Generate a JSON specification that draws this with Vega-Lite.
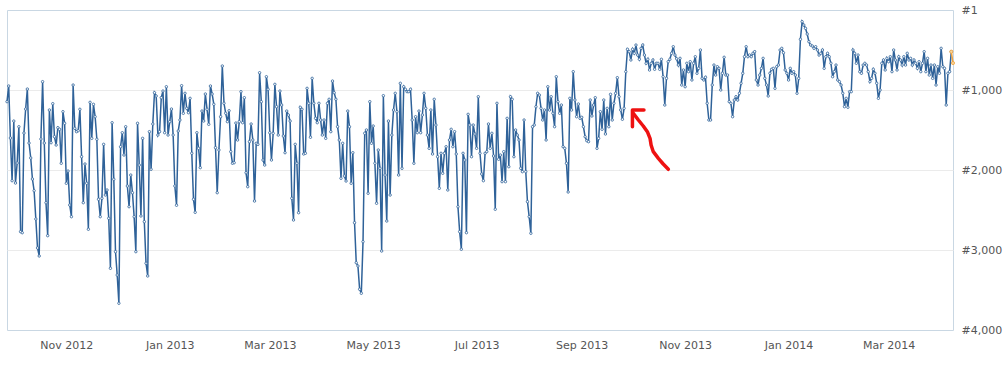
{
"$schema": "https://vega.github.io/schema/vega-lite/v6.json",
"width": 946, "height": 320,
"autosize": {"type": "none"},
"padding": {"left": 7, "top": 10, "right": 53, "bottom": 37},
"background": "white",
"config": {"view": {"stroke": "#c9d7e3", "strokeWidth": 1}, "font": "DejaVu Sans"},
"datasets": {
"rank": [
{"d":"2012-09-27","r":1146},{"d":"2012-09-28","r":950},{"d":"2012-09-29","r":1600},{"d":"2012-09-30","r":2134},
{"d":"2012-10-01","r":1388},{"d":"2012-10-02","r":2163},{"d":"2012-10-03","r":1913},{"d":"2012-10-04","r":1459},{"d":"2012-10-05","r":2771},{"d":"2012-10-06","r":2784},{"d":"2012-10-07","r":1538},{"d":"2012-10-08","r":1238},{"d":"2012-10-09","r":988},{"d":"2012-10-10","r":1663},{"d":"2012-10-11","r":1850},{"d":"2012-10-12","r":2113},{"d":"2012-10-13","r":2259},{"d":"2012-10-14","r":2613},{"d":"2012-10-15","r":2975},{"d":"2012-10-16","r":3075},{"d":"2012-10-17","r":1613},{"d":"2012-10-18","r":896},{"d":"2012-10-19","r":1663},{"d":"2012-10-20","r":2409},{"d":"2012-10-21","r":2821},{"d":"2012-10-22","r":1250},{"d":"2012-10-23","r":1659},{"d":"2012-10-24","r":1171},{"d":"2012-10-25","r":1584},{"d":"2012-10-26","r":1688},{"d":"2012-10-27","r":1471},{"d":"2012-10-28","r":1491},{"d":"2012-10-29","r":1916},{"d":"2012-10-30","r":1271},{"d":"2012-10-31","r":1416},
{"d":"2012-11-01","r":2166},{"d":"2012-11-02","r":2013},{"d":"2012-11-03","r":2438},{"d":"2012-11-04","r":2584},{"d":"2012-11-05","r":938},{"d":"2012-11-06","r":1479},{"d":"2012-11-07","r":1521},{"d":"2012-11-08","r":1509},{"d":"2012-11-09","r":1241},{"d":"2012-11-10","r":1834},{"d":"2012-11-11","r":2409},{"d":"2012-11-12","r":1925},{"d":"2012-11-13","r":2166},{"d":"2012-11-14","r":2741},{"d":"2012-11-15","r":1154},{"d":"2012-11-16","r":1604},{"d":"2012-11-17","r":1179},{"d":"2012-11-18","r":1334},{"d":"2012-11-19","r":1616},{"d":"2012-11-20","r":2366},{"d":"2012-11-21","r":2584},{"d":"2012-11-22","r":2354},{"d":"2012-11-23","r":1679},{"d":"2012-11-24","r":2313},{"d":"2012-11-25","r":2250},{"d":"2012-11-26","r":2604},{"d":"2012-11-27","r":3229},{"d":"2012-11-28","r":1409},{"d":"2012-11-29","r":2116},{"d":"2012-11-30","r":3021},
{"d":"2012-12-01","r":3313},{"d":"2012-12-02","r":3666},{"d":"2012-12-03","r":1709},{"d":"2012-12-04","r":1534},{"d":"2012-12-05","r":1813},{"d":"2012-12-06","r":1459},{"d":"2012-12-07","r":2200},{"d":"2012-12-08","r":2459},{"d":"2012-12-09","r":2063},{"d":"2012-12-10","r":2284},{"d":"2012-12-11","r":2584},{"d":"2012-12-12","r":3021},{"d":"2012-12-13","r":1416},{"d":"2012-12-14","r":1938},{"d":"2012-12-15","r":2575},{"d":"2012-12-16","r":1604},{"d":"2012-12-17","r":2646},{"d":"2012-12-18","r":3166},{"d":"2012-12-19","r":3325},{"d":"2012-12-20","r":1521},{"d":"2012-12-21","r":1991},{"d":"2012-12-22","r":1425},{"d":"2012-12-23","r":1034},{"d":"2012-12-24","r":1075},{"d":"2012-12-25","r":1563},{"d":"2012-12-26","r":1521},{"d":"2012-12-27","r":1096},{"d":"2012-12-28","r":1013},{"d":"2012-12-29","r":1534},{"d":"2012-12-30","r":959},{"d":"2012-12-31","r":1563},
{"d":"2013-01-01","r":1396},{"d":"2013-01-02","r":1238},{"d":"2013-01-03","r":1563},{"d":"2013-01-04","r":2200},{"d":"2013-01-05","r":2441},{"d":"2013-01-06","r":1513},{"d":"2013-01-07","r":1375},{"d":"2013-01-08","r":946},{"d":"2013-01-09","r":1291},{"d":"2013-01-10","r":1041},{"d":"2013-01-11","r":1229},{"d":"2013-01-12","r":1284},{"d":"2013-01-13","r":1104},{"d":"2013-01-14","r":1791},{"d":"2013-01-15","r":2366},{"d":"2013-01-16","r":2529},{"d":"2013-01-17","r":1534},{"d":"2013-01-18","r":1729},{"d":"2013-01-19","r":1971},{"d":"2013-01-20","r":1263},{"d":"2013-01-21","r":1388},{"d":"2013-01-22","r":1050},{"d":"2013-01-23","r":1241},{"d":"2013-01-24","r":1429},{"d":"2013-01-25","r":950},{"d":"2013-01-26","r":1050},{"d":"2013-01-27","r":1179},{"d":"2013-01-28","r":1721},{"d":"2013-01-29","r":2284},{"d":"2013-01-30","r":1750},{"d":"2013-01-31","r":1334},
{"d":"2013-02-01","r":700},{"d":"2013-02-02","r":1166},{"d":"2013-02-03","r":1291},{"d":"2013-02-04","r":1396},{"d":"2013-02-05","r":1259},{"d":"2013-02-06","r":1771},{"d":"2013-02-07","r":1916},{"d":"2013-02-08","r":1909},{"d":"2013-02-09","r":1413},{"d":"2013-02-10","r":1625},{"d":"2013-02-11","r":1396},{"d":"2013-02-12","r":1021},{"d":"2013-02-13","r":1409},{"d":"2013-02-14","r":1096},{"d":"2013-02-15","r":2034},{"d":"2013-02-16","r":2209},{"d":"2013-02-17","r":1646},{"d":"2013-02-18","r":1425},{"d":"2013-02-19","r":1625},{"d":"2013-02-20","r":2388},{"d":"2013-02-21","r":1666},{"d":"2013-02-22","r":1679},{"d":"2013-02-23","r":784},{"d":"2013-02-24","r":1146},{"d":"2013-02-25","r":1875},{"d":"2013-02-26","r":1938},{"d":"2013-02-27","r":834},{"d":"2013-02-28","r":991},
{"d":"2013-03-01","r":1534},{"d":"2013-03-02","r":1875},{"d":"2013-03-03","r":1541},{"d":"2013-03-04","r":929},{"d":"2013-03-05","r":1209},{"d":"2013-03-06","r":1563},{"d":"2013-03-07","r":1013},{"d":"2013-03-08","r":1188},{"d":"2013-03-09","r":1575},{"d":"2013-03-10","r":1784},{"d":"2013-03-11","r":1263},{"d":"2013-03-12","r":1313},{"d":"2013-03-13","r":1388},{"d":"2013-03-14","r":2354},{"d":"2013-03-15","r":2625},{"d":"2013-03-16","r":1679},{"d":"2013-03-17","r":1916},{"d":"2013-03-18","r":2534},{"d":"2013-03-19","r":1216},{"d":"2013-03-20","r":1241},{"d":"2013-03-21","r":1800},{"d":"2013-03-22","r":1791},{"d":"2013-03-23","r":979},{"d":"2013-03-24","r":1166},{"d":"2013-03-25","r":1591},{"d":"2013-03-26","r":854},{"d":"2013-03-27","r":1166},{"d":"2013-03-28","r":1354},{"d":"2013-03-29","r":1409},{"d":"2013-03-30","r":1166},{"d":"2013-03-31","r":1375},
{"d":"2013-04-01","r":1563},{"d":"2013-04-02","r":1375},{"d":"2013-04-03","r":1604},{"d":"2013-04-04","r":1166},{"d":"2013-04-05","r":1116},{"d":"2013-04-06","r":1521},{"d":"2013-04-07","r":888},{"d":"2013-04-08","r":1034},{"d":"2013-04-09","r":1116},{"d":"2013-04-10","r":1459},{"d":"2013-04-11","r":1625},{"d":"2013-04-12","r":2104},{"d":"2013-04-13","r":1666},{"d":"2013-04-14","r":2075},{"d":"2013-04-15","r":2138},{"d":"2013-04-16","r":1263},{"d":"2013-04-17","r":1459},{"d":"2013-04-18","r":2166},{"d":"2013-04-19","r":1784},{"d":"2013-04-20","r":2659},{"d":"2013-04-21","r":3159},{"d":"2013-04-22","r":3200},{"d":"2013-04-23","r":3491},{"d":"2013-04-24","r":3541},{"d":"2013-04-25","r":2896},{"d":"2013-04-26","r":1541},{"d":"2013-04-27","r":1500},{"d":"2013-04-28","r":2291},{"d":"2013-04-29","r":1146},{"d":"2013-04-30","r":1666},
{"d":"2013-05-01","r":1450},{"d":"2013-05-02","r":1916},{"d":"2013-05-03","r":2416},{"d":"2013-05-04","r":1750},{"d":"2013-05-05","r":1979},{"d":"2013-05-06","r":3013},{"d":"2013-05-07","r":1071},{"d":"2013-05-08","r":2063},{"d":"2013-05-09","r":2638},{"d":"2013-05-10","r":1388},{"d":"2013-05-11","r":2313},{"d":"2013-05-12","r":1563},{"d":"2013-05-13","r":1250},{"d":"2013-05-14","r":1041},{"d":"2013-05-15","r":1271},{"d":"2013-05-16","r":2063},{"d":"2013-05-17","r":916},{"d":"2013-05-18","r":1979},{"d":"2013-05-19","r":959},{"d":"2013-05-20","r":991},{"d":"2013-05-21","r":1021},{"d":"2013-05-22","r":1021},{"d":"2013-05-23","r":991},{"d":"2013-05-24","r":1375},{"d":"2013-05-25","r":1916},{"d":"2013-05-26","r":1334},{"d":"2013-05-27","r":1534},{"d":"2013-05-28","r":1263},{"d":"2013-05-29","r":1534},{"d":"2013-05-30","r":1313},{"d":"2013-05-31","r":1041},
{"d":"2013-06-01","r":1229},{"d":"2013-06-02","r":1563},{"d":"2013-06-03","r":1729},{"d":"2013-06-04","r":1250},{"d":"2013-06-05","r":1800},{"d":"2013-06-06","r":1116},{"d":"2013-06-07","r":1438},{"d":"2013-06-08","r":1834},{"d":"2013-06-09","r":2229},{"d":"2013-06-10","r":1791},{"d":"2013-06-11","r":2041},{"d":"2013-06-12","r":1791},{"d":"2013-06-13","r":1709},{"d":"2013-06-14","r":2250},{"d":"2013-06-15","r":1625},{"d":"2013-06-16","r":1491},{"d":"2013-06-17","r":1709},{"d":"2013-06-18","r":1521},{"d":"2013-06-19","r":1800},{"d":"2013-06-20","r":2459},{"d":"2013-06-21","r":2771},{"d":"2013-06-22","r":2991},{"d":"2013-06-23","r":1791},{"d":"2013-06-24","r":1875},{"d":"2013-06-25","r":2784},{"d":"2013-06-26","r":1304},{"d":"2013-06-27","r":1438},{"d":"2013-06-28","r":1834},{"d":"2013-06-29","r":1438},{"d":"2013-06-30","r":1550},
{"d":"2013-07-01","r":1729},{"d":"2013-07-02","r":1084},{"d":"2013-07-03","r":1791},{"d":"2013-07-04","r":2050},{"d":"2013-07-05","r":2134},{"d":"2013-07-06","r":1791},{"d":"2013-07-07","r":1771},{"d":"2013-07-08","r":1425},{"d":"2013-07-09","r":1729},{"d":"2013-07-10","r":1541},{"d":"2013-07-11","r":1825},{"d":"2013-07-12","r":2491},{"d":"2013-07-13","r":1166},{"d":"2013-07-14","r":1866},{"d":"2013-07-15","r":1813},{"d":"2013-07-16","r":2146},{"d":"2013-07-17","r":1771},{"d":"2013-07-18","r":2146},{"d":"2013-07-19","r":1354},{"d":"2013-07-20","r":1959},{"d":"2013-07-21","r":1084},{"d":"2013-07-22","r":1116},{"d":"2013-07-23","r":1834},{"d":"2013-07-24","r":1500},{"d":"2013-07-25","r":1563},{"d":"2013-07-26","r":1625},{"d":"2013-07-27","r":1979},{"d":"2013-07-28","r":2021},{"d":"2013-07-29","r":1375},{"d":"2013-07-30","r":2021},{"d":"2013-07-31","r":2396},
{"d":"2013-08-01","r":2584},{"d":"2013-08-02","r":2791},{"d":"2013-08-03","r":1459},{"d":"2013-08-04","r":1438},{"d":"2013-08-05","r":1209},{"d":"2013-08-06","r":1041},{"d":"2013-08-07","r":1063},{"d":"2013-08-08","r":1229},{"d":"2013-08-09","r":1375},{"d":"2013-08-10","r":1250},{"d":"2013-08-11","r":1625},{"d":"2013-08-12","r":959},{"d":"2013-08-13","r":1250},{"d":"2013-08-14","r":1084},{"d":"2013-08-15","r":1291},{"d":"2013-08-16","r":1459},{"d":"2013-08-17","r":834},{"d":"2013-08-18","r":1146},{"d":"2013-08-19","r":1291},{"d":"2013-08-20","r":1188},{"d":"2013-08-21","r":1709},{"d":"2013-08-22","r":1729},{"d":"2013-08-23","r":1916},{"d":"2013-08-24","r":2275},{"d":"2013-08-25","r":1104},{"d":"2013-08-26","r":1250},{"d":"2013-08-27","r":771},{"d":"2013-08-28","r":1125},{"d":"2013-08-29","r":1334},{"d":"2013-08-30","r":1175},{"d":"2013-08-31","r":1354},
{"d":"2013-09-01","r":1341},{"d":"2013-09-02","r":1459},{"d":"2013-09-03","r":1584},{"d":"2013-09-04","r":1634},{"d":"2013-09-05","r":1646},{"d":"2013-09-06","r":1125},{"d":"2013-09-07","r":1325},{"d":"2013-09-08","r":1188},{"d":"2013-09-09","r":1096},{"d":"2013-09-10","r":1729},{"d":"2013-09-11","r":1604},{"d":"2013-09-12","r":1271},{"d":"2013-09-13","r":1491},{"d":"2013-09-14","r":1125},{"d":"2013-09-15","r":1550},{"d":"2013-09-16","r":1229},{"d":"2013-09-17","r":1459},{"d":"2013-09-18","r":1054},{"d":"2013-09-19","r":1375},{"d":"2013-09-20","r":1166},{"d":"2013-09-21","r":1041},{"d":"2013-09-22","r":846},{"d":"2013-09-23","r":1084},{"d":"2013-09-24","r":1250},{"d":"2013-09-25","r":1366},{"d":"2013-09-26","r":1229},{"d":"2013-09-27","r":771},{"d":"2013-09-28","r":491},{"d":"2013-09-29","r":521},{"d":"2013-09-30","r":625},
{"d":"2013-10-01","r":491},{"d":"2013-10-02","r":541},{"d":"2013-10-03","r":438},{"d":"2013-10-04","r":563},{"d":"2013-10-05","r":616},{"d":"2013-10-06","r":479},{"d":"2013-10-07","r":438},{"d":"2013-10-08","r":563},{"d":"2013-10-09","r":666},{"d":"2013-10-10","r":616},{"d":"2013-10-11","r":750},{"d":"2013-10-12","r":666},{"d":"2013-10-13","r":625},{"d":"2013-10-14","r":741},{"d":"2013-10-15","r":666},{"d":"2013-10-16","r":666},{"d":"2013-10-17","r":741},{"d":"2013-10-18","r":616},{"d":"2013-10-19","r":834},{"d":"2013-10-20","r":1188},{"d":"2013-10-21","r":854},{"d":"2013-10-22","r":646},{"d":"2013-10-23","r":616},{"d":"2013-10-24","r":541},{"d":"2013-10-25","r":459},{"d":"2013-10-26","r":563},{"d":"2013-10-27","r":610},{"d":"2013-10-28","r":688},{"d":"2013-10-29","r":604},{"d":"2013-10-30","r":938},{"d":"2013-10-31","r":750},
{"d":"2013-11-01","r":959},{"d":"2013-11-02","r":666},{"d":"2013-11-03","r":771},{"d":"2013-11-04","r":646},{"d":"2013-11-05","r":875},{"d":"2013-11-06","r":666},{"d":"2013-11-07","r":584},{"d":"2013-11-08","r":791},{"d":"2013-11-09","r":729},{"d":"2013-11-10","r":500},{"d":"2013-11-11","r":854},{"d":"2013-11-12","r":875},{"d":"2013-11-13","r":841},{"d":"2013-11-14","r":1166},{"d":"2013-11-15","r":1375},{"d":"2013-11-16","r":1375},{"d":"2013-11-17","r":938},{"d":"2013-11-18","r":688},{"d":"2013-11-19","r":813},{"d":"2013-11-20","r":709},{"d":"2013-11-21","r":729},{"d":"2013-11-22","r":1000},{"d":"2013-11-23","r":791},{"d":"2013-11-24","r":591},{"d":"2013-11-25","r":813},{"d":"2013-11-26","r":813},{"d":"2013-11-27","r":1146},{"d":"2013-11-28","r":1166},{"d":"2013-11-29","r":1334},{"d":"2013-11-30","r":1125},
{"d":"2013-12-01","r":1084},{"d":"2013-12-02","r":1125},{"d":"2013-12-03","r":1041},{"d":"2013-12-04","r":916},{"d":"2013-12-05","r":791},{"d":"2013-12-06","r":584},{"d":"2013-12-07","r":459},{"d":"2013-12-08","r":584},{"d":"2013-12-09","r":563},{"d":"2013-12-10","r":584},{"d":"2013-12-11","r":541},{"d":"2013-12-12","r":521},{"d":"2013-12-13","r":875},{"d":"2013-12-14","r":938},{"d":"2013-12-15","r":813},{"d":"2013-12-16","r":729},{"d":"2013-12-17","r":604},{"d":"2013-12-18","r":854},{"d":"2013-12-19","r":938},{"d":"2013-12-20","r":1075},{"d":"2013-12-21","r":791},{"d":"2013-12-22","r":741},{"d":"2013-12-23","r":729},{"d":"2013-12-24","r":979},{"d":"2013-12-25","r":709},{"d":"2013-12-26","r":688},{"d":"2013-12-27","r":500},{"d":"2013-12-28","r":479},{"d":"2013-12-29","r":534},{"d":"2013-12-30","r":750},{"d":"2013-12-31","r":791},
{"d":"2014-01-01","r":875},{"d":"2014-01-02","r":729},{"d":"2014-01-03","r":791},{"d":"2014-01-04","r":771},{"d":"2014-01-05","r":813},{"d":"2014-01-06","r":1041},{"d":"2014-01-07","r":854},{"d":"2014-01-08","r":366},{"d":"2014-01-09","r":146},{"d":"2014-01-10","r":188},{"d":"2014-01-11","r":229},{"d":"2014-01-12","r":300},{"d":"2014-01-13","r":396},{"d":"2014-01-14","r":438},{"d":"2014-01-15","r":450},{"d":"2014-01-16","r":479},{"d":"2014-01-17","r":459},{"d":"2014-01-18","r":500},{"d":"2014-01-19","r":563},{"d":"2014-01-20","r":541},{"d":"2014-01-21","r":500},{"d":"2014-01-22","r":729},{"d":"2014-01-23","r":584},{"d":"2014-01-24","r":541},{"d":"2014-01-25","r":584},{"d":"2014-01-26","r":666},{"d":"2014-01-27","r":834},{"d":"2014-01-28","r":771},{"d":"2014-01-29","r":688},{"d":"2014-01-30","r":875},{"d":"2014-01-31","r":896},
{"d":"2014-02-01","r":938},{"d":"2014-02-02","r":1041},{"d":"2014-02-03","r":1209},{"d":"2014-02-04","r":1104},{"d":"2014-02-05","r":1216},{"d":"2014-02-06","r":1021},{"d":"2014-02-07","r":1021},{"d":"2014-02-08","r":500},{"d":"2014-02-09","r":541},{"d":"2014-02-10","r":666},{"d":"2014-02-11","r":563},{"d":"2014-02-12","r":771},{"d":"2014-02-13","r":791},{"d":"2014-02-14","r":688},{"d":"2014-02-15","r":666},{"d":"2014-02-16","r":688},{"d":"2014-02-17","r":771},{"d":"2014-02-18","r":896},{"d":"2014-02-19","r":854},{"d":"2014-02-20","r":741},{"d":"2014-02-21","r":791},{"d":"2014-02-22","r":916},{"d":"2014-02-23","r":1104},{"d":"2014-02-24","r":1000},{"d":"2014-02-25","r":666},{"d":"2014-02-26","r":625},{"d":"2014-02-27","r":750},{"d":"2014-02-28","r":604},
{"d":"2014-03-01","r":646},{"d":"2014-03-02","r":584},{"d":"2014-03-03","r":771},{"d":"2014-03-04","r":500},{"d":"2014-03-05","r":625},{"d":"2014-03-06","r":750},{"d":"2014-03-07","r":584},{"d":"2014-03-08","r":625},{"d":"2014-03-09","r":688},{"d":"2014-03-10","r":584},{"d":"2014-03-11","r":688},{"d":"2014-03-12","r":541},{"d":"2014-03-13","r":625},{"d":"2014-03-14","r":604},{"d":"2014-03-15","r":688},{"d":"2014-03-16","r":625},{"d":"2014-03-17","r":666},{"d":"2014-03-18","r":729},{"d":"2014-03-19","r":646},{"d":"2014-03-20","r":771},{"d":"2014-03-21","r":666},{"d":"2014-03-22","r":521},{"d":"2014-03-23","r":771},{"d":"2014-03-24","r":604},{"d":"2014-03-25","r":813},{"d":"2014-03-26","r":688},{"d":"2014-03-27","r":854},{"d":"2014-03-28","r":688},{"d":"2014-03-29","r":938},{"d":"2014-03-30","r":709},{"d":"2014-03-31","r":791},
{"d":"2014-04-01","r":479},{"d":"2014-04-02","r":709},{"d":"2014-04-03","r":729},{"d":"2014-04-04","r":1188},{"d":"2014-04-05","r":791},{"d":"2014-04-06","r":771},{"d":"2014-04-07","r":521}
],
"today": [
{"d":"2014-04-07","r":521},{"d":"2014-04-08","r":663}
],
"arrow": [
{"seg":"shaft","o":1,"d":"2013-10-01T10:00:00Z","r":1291},
{"seg":"shaft","o":2,"d":"2013-10-04T10:00:00Z","r":1375},
{"seg":"shaft","o":3,"d":"2013-10-07T07:00:00Z","r":1450},
{"seg":"shaft","o":4,"d":"2013-10-09T17:00:00Z","r":1521},
{"seg":"shaft","o":5,"d":"2013-10-11T07:00:00Z","r":1604},
{"seg":"shaft","o":6,"d":"2013-10-11T22:00:00Z","r":1688},
{"seg":"shaft","o":7,"d":"2013-10-13T05:00:00Z","r":1771},
{"seg":"shaft","o":8,"d":"2013-10-16T05:00:00Z","r":1854},
{"seg":"shaft","o":9,"d":"2013-10-19T02:00:00Z","r":1925},
{"seg":"shaft","o":10,"d":"2013-10-22T02:00:00Z","r":1991},
{"seg":"head","o":1,"d":"2013-10-07T17:00:00Z","r":1250},
{"seg":"head","o":2,"d":"2013-09-30T22:00:00Z","r":1250},
{"seg":"head","o":3,"d":"2013-09-30T22:00:00Z","r":1459}
]
},
"encoding": {
"x": {"field": "d", "type": "temporal", "scale": {"type": "utc", "nice": false},
 "axis": {"title": null, "format": "%b %Y", "tickCount": {"interval": "month", "step": 2}, "ticks": false, "domain": false, "grid": false, "labelFontSize": 11, "labelColor": "#555555", "labelPadding": 9, "labelFlush": false, "labelFont": "DejaVu Sans"}},
"y": {"field": "r", "type": "quantitative", "scale": {"domain": [0, 4000], "reverse": true, "nice": false, "zero": false},
 "axis": {"title": null, "orient": "right", "values": [0, 1000, 2000, 3000, 4000], "labelExpr": "datum.value == 0 ? '#1' : '#' + format(datum.value, ',')", "ticks": false, "domain": false, "grid": true, "gridColor": "#ebebeb", "gridOpacity": {"condition": {"test": "datum.value == 0 || datum.value == 4000", "value": 0}, "value": 1}, "labelFontSize": 11, "labelColor": "#555555", "labelPadding": 8, "labelFont": "DejaVu Sans"}}
},
"layer": [
{"data": {"name": "rank"}, "mark": {"type": "line", "color": "#2f6299", "strokeWidth": 1.5, "point": {"filled": true, "fill": "white", "stroke": "#2f6299", "strokeWidth": 0.8, "size": 6}}},
{"data": {"name": "today"}, "mark": {"type": "line", "color": "#f0a23c", "strokeWidth": 1.5, "point": {"filled": true, "fill": "#f7d49a", "stroke": "#f0a23c", "strokeWidth": 0.8, "size": 10}}},
{"data": {"name": "arrow"}, "mark": {"type": "line", "color": "#ee1111", "strokeWidth": 3.5, "strokeCap": "round", "strokeJoin": "round"},
 "encoding": {"detail": {"field": "seg", "type": "nominal"}, "order": {"field": "o", "type": "quantitative"}}}
]
}
